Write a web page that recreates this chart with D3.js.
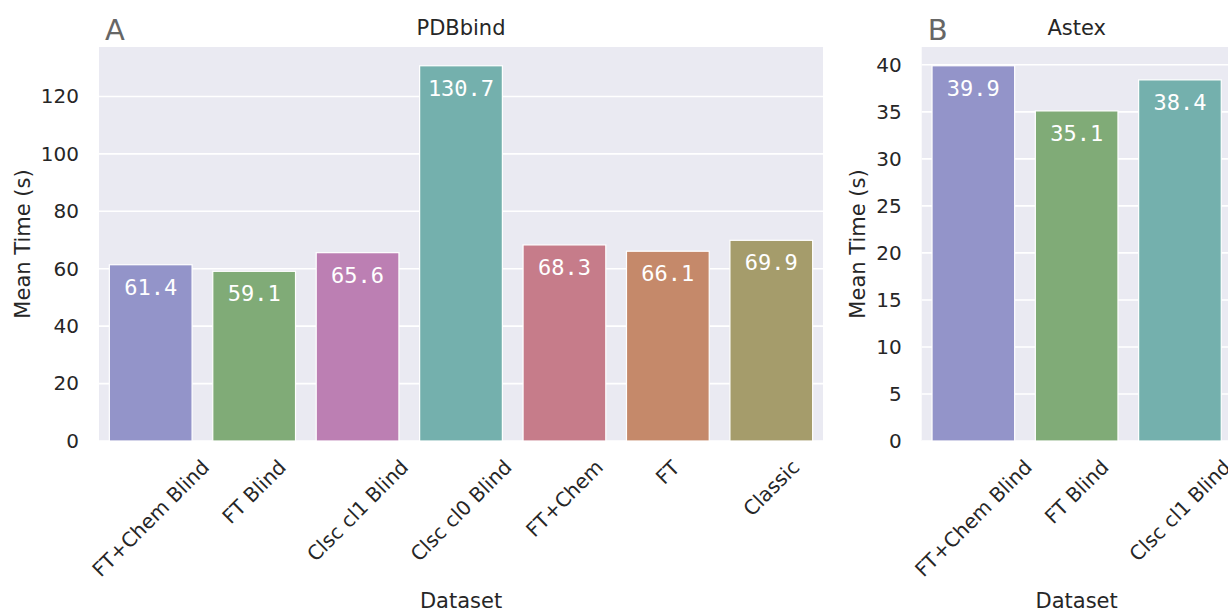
<!DOCTYPE html>
<html>
<head>
<meta charset="utf-8">
<script src="https://cdn.jsdelivr.net/npm/d3@7"></script>
<style>
  html, body { margin: 0; padding: 0; background: #fff; }
  svg { display: block; }
</style>
</head>
<body>
<svg id="chart" width="1228" height="612"></svg>
<script>
// Mean docking time per dataset configuration
const pdbCategories = ["FT+Chem Blind", "FT Blind", "Clsc cl1 Blind", "Clsc cl0 Blind", "FT+Chem", "FT", "Classic"];
const pdbValues = [61.4, 59.1, 65.6, 130.7, 68.3, 66.1, 69.9];
const pdbTicks = [0, 20, 40, 60, 80, 100, 120];
const pdbColors = ["#9394c9", "#80ab77", "#bc7fb3", "#74b0ad", "#c67c8a", "#c5896a", "#a59c6b"];

const astexCategories = ["FT+Chem Blind", "FT Blind", "Clsc cl1 Blind"];
const astexValues = [39.9, 35.1, 38.4];
const astexTicks = [0, 5, 10, 15, 20, 25, 30, 35, 40];
const astexColors = ["#9394c9", "#80ab77", "#74b0ad"];

const SANS = "'DejaVu Sans', sans-serif";
const MONO = "'DejaVu Sans Mono', monospace";

const svg = d3.select("#chart");

function panel(opts) {
  const { left, right, top, bottom, cats, vals, ticks, colors, title, letter, ylabelX } = opts;
  const g = svg.append("g").style("font-family", SANS);

  const x = d3.scaleBand().domain(cats).range([left, right]).paddingInner(0.2).paddingOuter(0.1);
  const y = d3.scaleLinear().domain([0, d3.max(vals) * 1.05]).range([bottom, top]);

  // plot background
  g.append("rect").attr("x", left).attr("y", top)
    .attr("width", right - left).attr("height", bottom - top)
    .attr("fill", "#eaeaf2");

  // horizontal grid
  g.append("g").selectAll("line").data(ticks).join("line")
    .attr("x1", left).attr("x2", right)
    .attr("y1", d => y(d)).attr("y2", d => y(d))
    .attr("stroke", "#fff").attr("stroke-width", 1.6);

  // y axis
  const yAxis = g.append("g").attr("transform", `translate(${left},0)`)
    .call(d3.axisLeft(y).tickValues(ticks).tickSize(0).tickPadding(20));
  yAxis.attr("font-family", null).attr("font-size", null);
  yAxis.select(".domain").remove();
  yAxis.selectAll("text").style("font-size", "20px").style("font-family", SANS).attr("fill", "#262626");

  // bars
  g.append("g").selectAll("rect").data(vals).join("rect")
    .attr("x", (d, i) => x(cats[i]))
    .attr("width", x.bandwidth())
    .attr("y", d => y(d))
    .attr("height", d => y(0) - y(d))
    .attr("fill", (d, i) => colors[i])
    .attr("stroke", "#ffffff").attr("stroke-width", 1.2);

  // value labels inside bars
  g.append("g").selectAll("text").data(vals).join("text")
    .attr("x", (d, i) => x(cats[i]) + x.bandwidth() / 2)
    .attr("y", d => y(d) + 30)
    .attr("text-anchor", "middle")
    .style("font-family", MONO)
    .style("font-size", "22px")
    .attr("fill", "#ffffff")
    .text(d => d.toFixed(1));

  // rotated category labels
  const labelTop = bottom + 14;
  cats.forEach(c => {
    const lg = g.append("g");
    lg.append("text")
      .attr("text-anchor", "middle")
      .attr("dominant-baseline", "central")
      .attr("transform", "rotate(-45)")
      .style("font-size", "20px").attr("fill", "#262626")
      .text(c);
    const bb = lg.node().getBBox();
    const cx = x(c) + x.bandwidth() / 2;
    lg.attr("transform", `translate(${cx - (bb.x + bb.width / 2)},${labelTop - bb.y})`);
  });

  // axis titles
  g.append("text").attr("x", (left + right) / 2).attr("y", 608)
    .attr("text-anchor", "middle").style("font-size", "21px").attr("fill", "#262626")
    .text("Dataset");
  g.append("text")
    .attr("transform", `translate(${ylabelX},${(top + bottom) / 2}) rotate(-90)`)
    .attr("text-anchor", "middle").style("font-size", "21px").attr("fill", "#262626")
    .text("Mean Time (s)");

  // panel title and letter
  g.append("text").attr("x", (left + right) / 2).attr("y", 35)
    .attr("text-anchor", "middle").style("font-size", "21px").attr("fill", "#262626")
    .text(title);
  g.append("text").attr("x", left + 6).attr("y", 40)
    .style("font-size", "29px").attr("fill", "#666666")
    .text(letter);
}

panel({ left: 99, right: 823, top: 47, bottom: 441, cats: pdbCategories, vals: pdbValues,
  ticks: pdbTicks, colors: pdbColors, title: "PDBbind", letter: "A", ylabelX: 30 });
panel({ left: 921.7, right: 1231.6, top: 47, bottom: 441, cats: astexCategories, vals: astexValues,
  ticks: astexTicks, colors: astexColors, title: "Astex", letter: "B", ylabelX: 865 });
</script>
</body>
</html>
